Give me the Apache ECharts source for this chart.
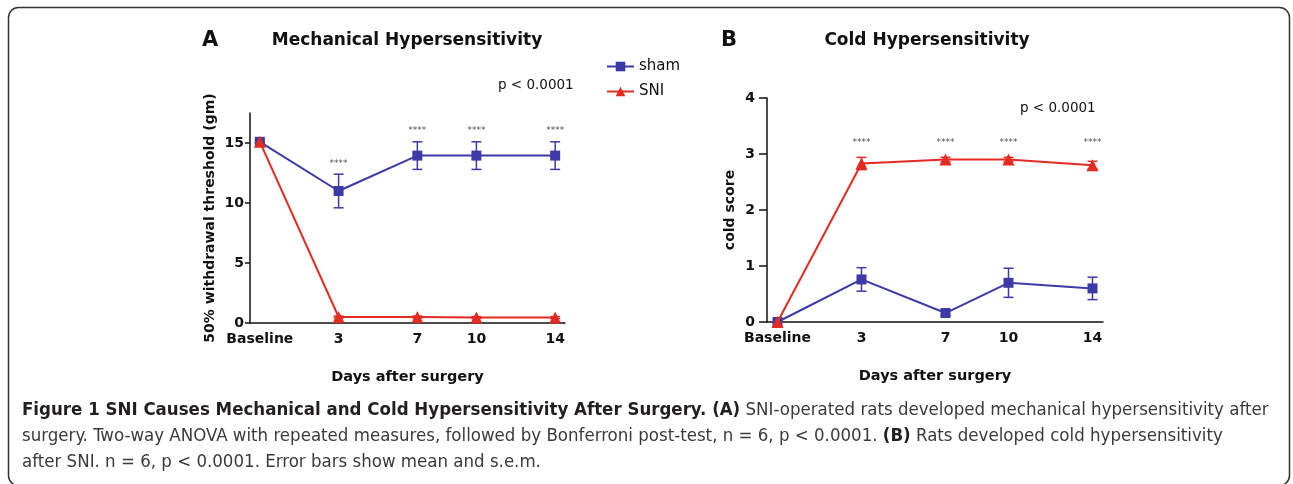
<!DOCTYPE html>
<html>
<head>
<meta charset="utf-8">
<script src="https://cdn.jsdelivr.net/npm/echarts@6/dist/echarts.min.js"></script>
<style>
  html, body { margin: 0; padding: 0; background: #fff; }
  #view { width: 1293px; height: 484px; }
</style>
</head>
<body>
<div id="view"></div>
<script>
// x positions (days after surgery, baseline drawn at -1)
const dayPos = [-1, 3, 7, 10, 14];
const dayLabels = ["Baseline", "3", "7", "10", "14"];

// A: mechanical threshold (gm)
const mechSham = [15.1, 11.0, 13.95, 13.95, 13.95];
const mechShamSem = [0.1, 1.4, 1.15, 1.15, 1.15];
const mechSni = [15.1, 0.5, 0.5, 0.45, 0.45];
const mechSniSem = [0.1, 0.08, 0.08, 0.08, 0.08];
const mechStarY = [null, 13.3, 16.0, 16.0, 16.0];

// B: cold score
const coldSham = [0, 0.76, 0.16, 0.7, 0.6];
const coldShamSem = [0, 0.21, 0.05, 0.26, 0.2];
const coldSni = [0, 2.83, 2.9, 2.9, 2.8];
const coldSniSem = [0, 0.11, 0.04, 0.04, 0.07];
const coldStarY = [null, 3.2, 3.2, 3.2, 3.2];

const BLUE = "#3b3aa6";
const RED = "#e42b22";
const BOLD = "DejaVu Sans";

function pairs(ys) {
  return dayPos.map((d, i) => [d, ys[i]]);
}

function errorBars(idx, mean, sem, color) {
  return {
    type: "custom",
    xAxisIndex: idx,
    yAxisIndex: idx,
    z: 3,
    silent: true,
    itemStyle: { color: color },
    data: dayPos.map((d, i) => [d, mean[i] - sem[i], mean[i] + sem[i]]),
    renderItem(params, api) {
      const lo = api.coord([api.value(0), api.value(1)]);
      const hi = api.coord([api.value(0), api.value(2)]);
      const w = 5;
      const st = { stroke: color, lineWidth: 1.5 };
      return {
        type: "group",
        children: [
          { type: "line", shape: { x1: lo[0], y1: lo[1], x2: hi[0], y2: hi[1] }, style: st },
          { type: "line", shape: { x1: lo[0] - w, y1: lo[1], x2: lo[0] + w, y2: lo[1] }, style: st },
          { type: "line", shape: { x1: hi[0] - w, y1: hi[1], x2: hi[0] + w, y2: hi[1] }, style: st },
        ],
      };
    },
  };
}

function lineSeries(name, idx, ys, color, symbol, size, z) {
  return {
    name: name,
    type: "line",
    xAxisIndex: idx,
    yAxisIndex: idx,
    data: pairs(ys),
    symbol: symbol,
    symbolSize: size,
    showSymbol: true,
    z: z,
    color: color,
    lineStyle: { color: color, width: 2 },
    itemStyle: { color: color, borderWidth: 0 },
    emphasis: { disabled: true },
  };
}

function starSeries(idx, ys) {
  return {
    type: "scatter",
    xAxisIndex: idx,
    yAxisIndex: idx,
    symbolSize: 0,
    silent: true,
    data: dayPos.map((d, i) => [d, ys[i]]).filter((p) => p[1] != null),
    label: {
      show: true,
      position: "inside",
      formatter: "****",
      color: "#222",
      fontSize: 9,
      fontFamily: "DejaVu Sans",
    },
  };
}

function xAxisFor(idx) {
  return {
    type: "value",
    gridIndex: idx,
    min: -1.5,
    max: 14.5,
    name: "Days after surgery",
    nameLocation: "middle",
    nameGap: 47,
    nameTextStyle: { color: "#111", fontSize: 14.5, fontWeight: "bold", fontFamily: BOLD },
    axisLine: { show: true, onZero: false, lineStyle: { color: "#111", width: 1.5 } },
    axisTick: { show: false },
    splitLine: { show: false },
    axisLabel: {
      customValues: dayPos,
      margin: 9,
      color: "#111",
      fontSize: 14,
      fontWeight: "bold",
      fontFamily: BOLD,
      formatter: (v) => dayLabels[dayPos.indexOf(v)],
    },
  };
}

function yAxisFor(idx, max, ticks, name, gap, tickLen, margin) {
  return {
    type: "value",
    gridIndex: idx,
    min: 0,
    max: max,
    name: name,
    nameLocation: "middle",
    nameGap: gap,
    nameTextStyle: { color: "#111", fontSize: 14, fontWeight: "bold", fontFamily: BOLD },
    axisLine: { show: true, onZero: false, lineStyle: { color: "#111", width: 1.5 } },
    axisTick: { show: true, customValues: ticks, length: tickLen, lineStyle: { color: "#111", width: 1.5 } },
    splitLine: { show: false },
    axisLabel: {
      customValues: ticks,
      margin: margin,
      color: "#111",
      fontSize: 14,
      fontWeight: "bold",
      fontFamily: BOLD,
    },
  };
}

function txt(x, y, text, size, weight, align, family) {
  return {
    type: "text",
    x: x,
    y: y,
    style: {
      text: text,
      fill: "#111",
      fontSize: size,
      fontWeight: weight,
      fontFamily: family || BOLD,
      align: align || "left",
      verticalAlign: "middle",
    },
  };
}

const capFont = "'Liberation Sans Narrow', 'DejaVu Sans Condensed', sans-serif";
const caption =
  "{b|Figure 1 SNI Causes Mechanical and Cold Hypersensitivity After Surgery. (A)}{n| SNI-operated rats developed mechanical hypersensitivity after}\n" +
  "{n|surgery. Two-way ANOVA with repeated measures, followed by Bonferroni post-test, n = 6, p < 0.0001. }{b|(B)}{n| Rats developed cold hypersensitivity}\n" +
  "{n|after SNI. n = 6, p < 0.0001. Error bars show mean and s.e.m.}";

const chart = echarts.init(document.getElementById("view"), null, { renderer: "canvas" });

const option = {
  backgroundColor: "#fff",
  animation: false,
  grid: [
    { left: 250, top: 113, width: 315, height: 210 },
    { left: 767, top: 98, width: 336, height: 224 },
  ],
  xAxis: [xAxisFor(0), xAxisFor(1)],
  yAxis: [
    yAxisFor(0, 17.5, [0, 5, 10, 15], "50% withdrawal threshold (gm)", 33, 5, 6),
    yAxisFor(1, 4, [0, 1, 2, 3, 4], "cold score", 30, 8, 12),
  ],
  legend: {
    data: ["sham", "SNI"],
    orient: "vertical",
    left: 601,
    top: 54,
    itemWidth: 27,
    itemHeight: 12,
    itemGap: 10,
    textStyle: { color: "#111", fontSize: 15, fontFamily: "DejaVu Sans" },
    selectedMode: false,
  },
  series: [
    errorBars(0, mechSham, mechShamSem, BLUE),
    errorBars(0, mechSni, mechSniSem, RED),
    lineSeries("sham", 0, mechSham, BLUE, "rect", 10, 4),
    lineSeries("SNI", 0, mechSni, RED, "triangle", 12, 5),
    starSeries(0, mechStarY),
    errorBars(1, coldSham, coldShamSem, BLUE),
    errorBars(1, coldSni, coldSniSem, RED),
    lineSeries("sham", 1, coldSham, BLUE, "rect", 10, 4),
    lineSeries("SNI", 1, coldSni, RED, "triangle", 12, 5),
    starSeries(1, coldStarY),
  ],
  graphic: [
    {
      type: "rect",
      shape: { x: 8.5, y: 7.5, width: 1281, height: 478, r: 10 },
      style: { fill: null, stroke: "#333", lineWidth: 1.5 },
      silent: true,
    },
    txt(202, 41, "A", 21, "bold"),
    txt(407, 41, "Mechanical Hypersensitivity", 17, "bold", "center"),
    txt(721, 41, "B", 21, "bold"),
    txt(927, 41, "Cold Hypersensitivity", 17, "bold", "center"),
    txt(498, 85, "p < 0.0001", 13.5, "normal"),
    txt(1020, 108, "p < 0.0001", 13.5, "normal"),
    {
      type: "text",
      x: 22,
      y: 397,
      style: {
        text: caption,
        fill: "#231f20",
        rich: {
          b: { fontFamily: capFont, fontWeight: "bold", fontSize: 18.5, lineHeight: 26, fill: "#231f20" },
          n: { fontFamily: capFont, fontWeight: "normal", fontSize: 18.5, lineHeight: 26, fill: "#3a3a3a" },
        },
      },
    },
  ],
};

chart.setOption(option);
</script>
</body>
</html>
